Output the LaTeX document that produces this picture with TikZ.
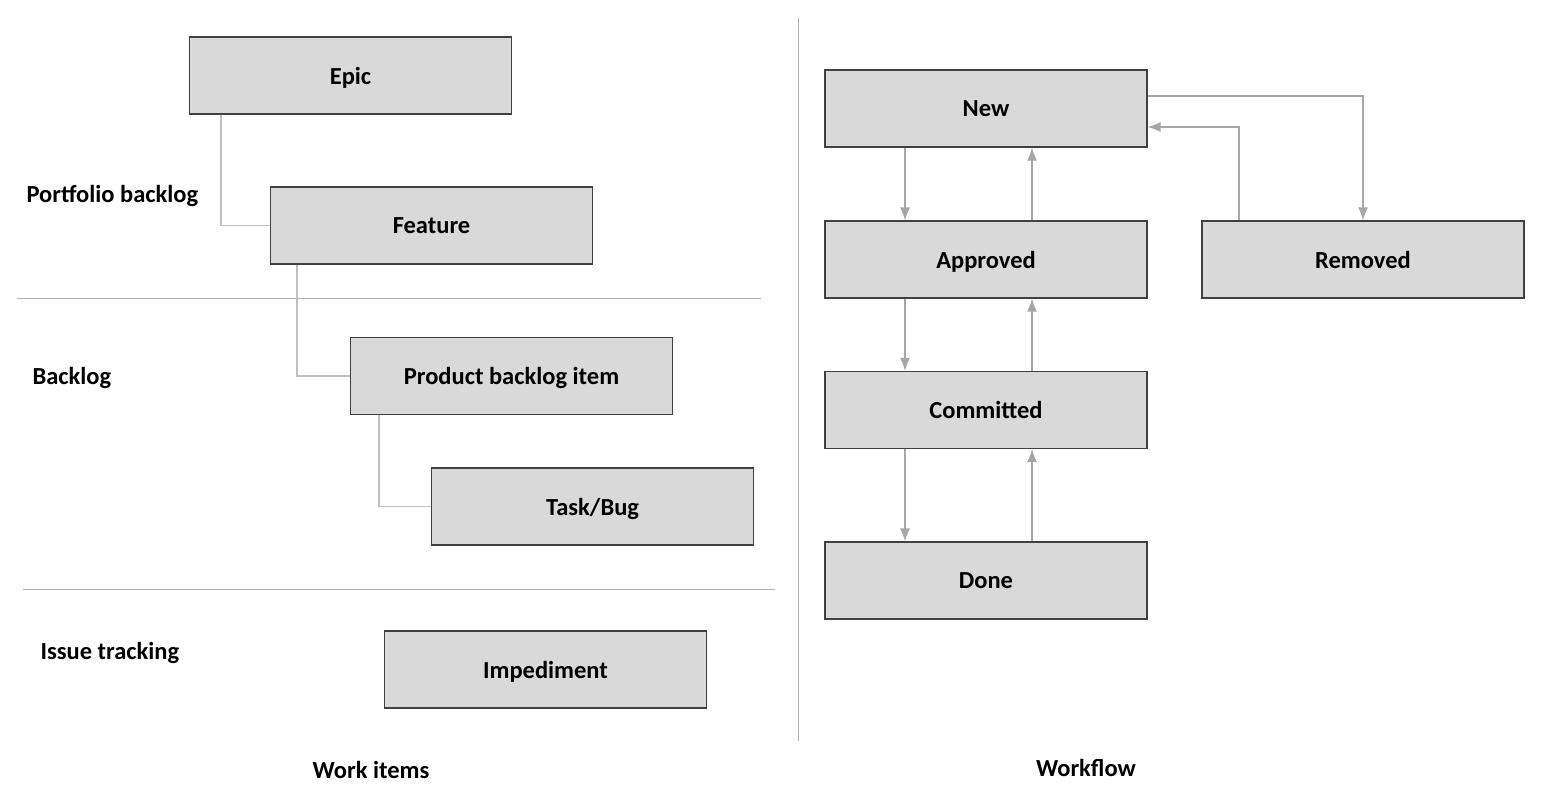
\documentclass[tikz,border=0pt]{standalone}
\usepackage{fontspec}
\setmainfont{Carlito}
\usetikzlibrary{arrows,arrows.meta}

\begin{document}
\begin{tikzpicture}[x=1pt,y=-1pt]
\tikzstyle{every node}=[font=\fontsize{24.5}{28}\selectfont\bfseries]
\tikzstyle{item}=[draw=black!75, line width=1.2pt, fill=black!15, minimum width=322pt, minimum height=77pt, inner sep=0pt, text depth=0pt]
\tikzstyle{tree}=[draw=black!25, line width=1.2pt]
\tikzstyle{sep}=[draw=black!30, line width=1pt]
\tikzstyle{flow}=[draw=black!35, line width=1.2pt, -{Latex[length=13pt,width=10pt]}]
\useasboundingbox (0,0) rectangle (1553,798);
% work items
\draw (350.5,75.5) node (epic) [item] {Epic};
\draw (431.5,225.5) node (feature) [item] {Feature};
\draw (511.5,376) node (pbi) [item] {Product backlog item};
\draw (592.5,506.5) node (task) [item] {Task/Bug};
\draw (545.5,669.5) node (imped) [item] {Impediment};
\draw [tree] ([xshift=-129.5pt]epic.south) |- (feature.west);
\draw [tree] ([xshift=-134.5pt]feature.south) |- (pbi.west);
\draw [tree] ([xshift=-132.5pt]pbi.south) |- (task.west);
\draw (23,196) node (portfolio) [anchor=west] {Portfolio backlog};
\draw (29,378) node (backlog) [anchor=west] {Backlog};
\draw (37,653) node (issues) [anchor=west] {Issue tracking};
\draw (371,770) node (workitems) {Work items};
\draw [sep] (17,298) -- (761,298);
\draw [sep] (23,589) -- (775,589);
\draw [sep] (798,18) -- (798,741);
% workflow
\draw (986,108.5) node (new) [item] {New};
\draw (986,259.5) node (approved) [item] {Approved};
\draw (986,410) node (committed) [item] {Committed};
\draw (986,580.5) node (done) [item] {Done};
\draw (1363,259.5) node (removed) [item] {Removed};
\draw (1086,768) node (workflow) {Workflow};
\draw [flow] ([xshift=-81pt]new.south) -- ([xshift=-81pt]approved.north);
\draw [flow] ([xshift=46pt]approved.north) -- ([xshift=46pt]new.south);
\draw [flow] ([xshift=-81pt]approved.south) -- ([xshift=-81pt]committed.north);
\draw [flow] ([xshift=46pt]committed.north) -- ([xshift=46pt]approved.south);
\draw [flow] ([xshift=-81pt]committed.south) -- ([xshift=-81pt]done.north);
\draw [flow] ([xshift=46pt]done.north) -- ([xshift=46pt]committed.south);
\draw [flow] ([yshift=12.5pt]new.east) -| (removed.north);
\draw [flow] ([xshift=-124pt]removed.north) |- ([yshift=-18.5pt]new.east);
\end{tikzpicture}
\end{document}
